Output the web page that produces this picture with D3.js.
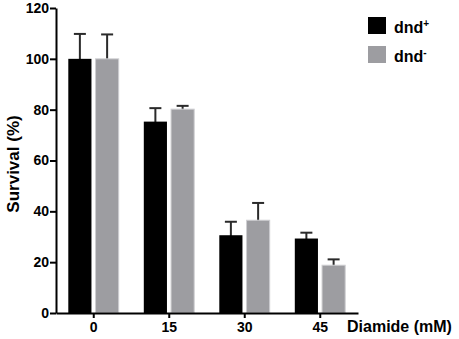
<!DOCTYPE html>
<html lang="en">
<head>
<meta charset="UTF-8">
<title>Survival vs diamide</title>
<style>
    body { margin: 0; background: #fff; }
    svg text { font-family: "Liberation Sans", Arial, sans-serif; font-weight: bold; }
</style>
</head>
<body>
<svg id="container" width="459" height="339"></svg>

<script src="https://cdn.jsdelivr.net/npm/d3@7/dist/d3.min.js"></script>
<script>
    // data
    let categories = ["0", "15", "30", "45"]
    let seriesNames = ["dnd+", "dnd-"]
    let dndPlus = [100, 75.3, 30.6, 29.3]
    let dndPlusErr = [9.8, 5.3, 5.3, 2.3]
    let dndMinus = [100, 80.2, 36.5, 18.8]
    let dndMinusErr = [9.6, 1.3, 6.8, 2.3]
    let yTicks = [0, 20, 40, 60, 80, 100, 120]
    let colors = ["#000000", "#9d9da1"]

    let svg = d3.select("#container")

    let plotLeft = 56, plotRight = 358, plotTop = 8, plotBottom = 313

    let x0 = d3.scaleBand().domain(categories).range([plotLeft, plotRight]).paddingInner(0).paddingOuter(0)
    let x1 = d3.scaleBand().domain(seriesNames).range([12.3, 62.7]).paddingInner(0.15)
    let y = d3.scaleLinear().domain([0, 120]).range([plotBottom, plotTop])

    let rows = categories.map((c, i) => ({
        cat: c,
        bars: [
            { s: seriesNames[0], v: dndPlus[i], e: dndPlusErr[i] },
            { s: seriesNames[1], v: dndMinus[i], e: dndMinusErr[i] }
        ]
    }))

    let groups = svg.selectAll("g.grp")
        .data(rows)
        .enter().append("g")
        .attr("class", "grp")
        .attr("transform", d => `translate(${x0(d.cat)},0)`)

    // error bars first so bars cover the lower part
    groups.selectAll("g.err")
        .data(d => d.bars)
        .enter().append("g")
        .attr("class", "err")
        .each(function (d) {
            let g = d3.select(this)
            let cx = x1(d.s) + x1.bandwidth() / 2
            g.append("line")
                .attr("x1", cx).attr("x2", cx)
                .attr("y1", y(d.v) + 2).attr("y2", y(d.v + d.e))
            g.append("line")
                .attr("x1", cx - 6).attr("x2", cx + 6)
                .attr("y1", y(d.v + d.e)).attr("y2", y(d.v + d.e))
        })
        .selectAll("line")
        .attr("stroke", "#2a2a2a")
        .attr("stroke-width", 2)

    groups.selectAll("rect")
        .data(d => d.bars)
        .enter().append("rect")
        .attr("x", d => x1(d.s))
        .attr("width", x1.bandwidth())
        .attr("y", d => y(d.v))
        .attr("height", d => y(0) - y(d.v))
        .attr("fill", (d, i) => colors[i])
        .attr("stroke", (d, i) => i == 1 ? "#cfcfd2" : "none")
        .attr("stroke-width", 1)

    // axes
    let yAxis = d3.axisLeft(y).tickValues(yTicks).tickSize(6).tickSizeOuter(0).tickPadding(1)
    let yAxisGroup = svg.append("g")
        .attr("transform", `translate(${plotLeft},0)`)
        .call(yAxis)

    let xAxis = d3.axisBottom(x0).tickSize(5).tickSizeOuter(0).tickPadding(4)
    let xAxisGroup = svg.append("g")
        .attr("transform", `translate(0,${plotBottom})`)
        .call(xAxis)

    svg.selectAll(".domain, .tick line")
        .attr("stroke", "#000")
        .attr("stroke-width", 2)
    svg.selectAll(".tick text")
        .attr("fill", "#000")
        .style("font-size", "14px")
        .style("font-family", "'Liberation Sans', Arial, sans-serif")
        .style("font-weight", "bold")

    // axis titles
    svg.append("text")
        .attr("transform", "translate(19,164) rotate(-90)")
        .attr("text-anchor", "middle")
        .style("font-size", "17px")
        .text("Survival (%)")

    svg.append("text")
        .attr("x", 347)
        .attr("y", 332)
        .style("font-size", "16px")
        .text("Diamide (mM)")

    // legend
    let legend = svg.selectAll("g.leg")
        .data(seriesNames)
        .enter().append("g")
        .attr("class", "leg")
        .attr("transform", (d, i) => `translate(368,${17 + i * 29})`)

    legend.append("rect")
        .attr("width", 18)
        .attr("height", 17)
        .attr("fill", (d, i) => colors[i])

    let lt = legend.append("text")
        .attr("x", 26)
        .attr("y", 16)
        .style("font-size", "16px")
        .text("dnd")
    lt.append("tspan")
        .attr("dy", -6)
        .style("font-size", "10px")
        .text(d => d.slice(3))
</script>
</body>
</html>
